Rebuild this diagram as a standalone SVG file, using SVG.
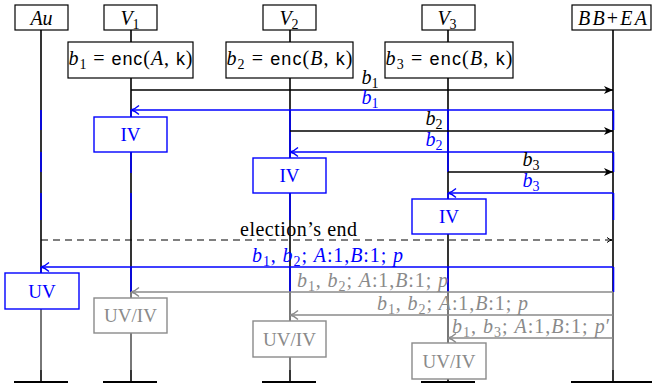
<svg xmlns="http://www.w3.org/2000/svg" width="652" height="389" viewBox="0 0 652 389">
<style>
text{font-family:"Liberation Serif","Times New Roman",serif;font-size:20px;fill:#000}
.it{font-style:italic}
.sans{font-family:"Liberation Sans",Arial,sans-serif;font-style:normal;font-size:18px}
.sub{font-size:14px}
.bl{font-size:19px}
.ll{stroke:#000;stroke-width:1.6;fill:none}
.llb{stroke:#0000ff;stroke-width:1.6;fill:none}
.llg{stroke:#8a8a8a;stroke-width:1.6;fill:none}
.foot{stroke:#000;stroke-width:2}
.box{fill:#fff;stroke:#000;stroke-width:1.2}
.boxb{fill:#fff;stroke:#0000ff;stroke-width:1.4}
.boxg{fill:#fff;stroke:#8a8a8a;stroke-width:1.4}
.tb{fill:#0000ff}
.tg{fill:#8a8a8a}
.mk{stroke:#000;stroke-width:1.3;fill:none}
.mb{stroke:#0000ff;stroke-width:1.3;fill:none}
.mg{stroke:#8a8a8a;stroke-width:1.3;fill:none}
.dash{stroke:#000;stroke-width:1.2;stroke-dasharray:7 5;fill:none}
</style>
<defs>
<marker id="hk" markerUnits="userSpaceOnUse" markerWidth="12" markerHeight="10" refX="10" refY="5" orient="auto"><path d="M1,1 L10,5 L1,9 L3.5,5 Z" fill="#000"/></marker>
<marker id="hb" markerUnits="userSpaceOnUse" markerWidth="12" markerHeight="12" refX="10" refY="6" orient="auto"><path d="M2,1.5 Q6,5.2 10,6 Q6,6.8 2,10.5" fill="none" stroke="#0000ff" stroke-width="1.3"/></marker>
<marker id="hg" markerUnits="userSpaceOnUse" markerWidth="12" markerHeight="12" refX="10" refY="6" orient="auto"><path d="M2,1.5 Q6,5.2 10,6 Q6,6.8 2,10.5" fill="none" stroke="#8a8a8a" stroke-width="1.3"/></marker>
<marker id="hd" markerUnits="userSpaceOnUse" markerWidth="8" markerHeight="8" refX="6" refY="4" orient="auto"><path d="M1,1.5 Q3.5,3.6 6,4 Q3.5,4.4 1,6.5" fill="none" stroke="#000" stroke-width="1"/></marker>
</defs>

<g id="Au">
<line class="ll" x1="41" y1="30" x2="41" y2="382"/>
<path class="llb" d="M41,110V130M41,152V172M41,193V220M41,267V273"/>
<path class="llg" d="M41,309V370"/>
<line class="foot" x1="14" y1="382" x2="68" y2="382"/>
<rect class="box" x="15" y="5" width="53" height="25"/>
<text x="41.5" y="24.5" text-anchor="middle" class="it">Au</text>
</g>

<g id="V1">
<line class="ll" x1="131" y1="30" x2="131" y2="382"/>
<path class="llb" d="M131,110V117M131,152V173M131,193V220M131,267V292"/>
<path class="llg" d="M131,292V298M131,333V370"/>
<line class="foot" x1="103" y1="382" x2="157" y2="382"/>
<rect class="box" x="104" y="5" width="53" height="25"/>
<text x="130" y="24.5" text-anchor="middle"><tspan class="it">V</tspan><tspan class="sub" dy="4">1</tspan></text>
<rect class="box" x="68" y="42" width="125" height="36"/>
<text x="130.5" y="65" text-anchor="middle" textLength="124"><tspan class="it">b</tspan><tspan class="sub" dy="4">1</tspan><tspan dy="-4"> = </tspan><tspan class="sans">enc</tspan>(<tspan class="it">A</tspan>, <tspan class="sans">k</tspan>)</text>
</g>

<g id="V2">
<line class="ll" x1="290" y1="30" x2="290" y2="382"/>
<path class="llb" d="M290,110V158M290,193V220M290,267V292"/>
<path class="llg" d="M290,292V321M290,357V370"/>
<line class="foot" x1="262" y1="382" x2="316" y2="382"/>
<rect class="box" x="263" y="5" width="53" height="25"/>
<text x="289" y="24.5" text-anchor="middle"><tspan class="it">V</tspan><tspan class="sub" dy="4">2</tspan></text>
<rect class="box" x="226" y="42" width="127" height="36"/>
<text x="289.5" y="65" text-anchor="middle" textLength="126"><tspan class="it">b</tspan><tspan class="sub" dy="4">2</tspan><tspan dy="-4"> = </tspan><tspan class="sans">enc</tspan>(<tspan class="it">B</tspan>, <tspan class="sans">k</tspan>)</text>
</g>

<g id="V3">
<line class="ll" x1="448" y1="30" x2="448" y2="382"/>
<path class="llb" d="M448,110V172M448,193V199M448,267V292"/>
<path class="llg" d="M448,292V343"/>
<line class="foot" x1="421" y1="382" x2="475" y2="382"/>
<rect class="box" x="422" y="5" width="53" height="25"/>
<text x="447" y="24.5" text-anchor="middle"><tspan class="it">V</tspan><tspan class="sub" dy="4">3</tspan></text>
<rect class="box" x="385" y="42" width="128" height="36"/>
<text x="449" y="65" text-anchor="middle" textLength="127"><tspan class="it">b</tspan><tspan class="sub" dy="4">3</tspan><tspan dy="-4"> = </tspan><tspan class="sans">enc</tspan>(<tspan class="it">B</tspan>, <tspan class="sans">k</tspan>)</text>
</g>

<g id="BBEA">
<line class="ll" x1="613" y1="30" x2="613" y2="382"/>
<path class="llb" d="M613.5,110V130M613.5,152V172M613.5,193V220M613.5,267V292"/>
<path class="llg" d="M613,292V370"/>
<line class="foot" x1="571" y1="382" x2="652" y2="382"/>
<rect class="box" x="572" y="5" width="79" height="25"/>
<text x="612.5" y="24.5" text-anchor="middle" textLength="69"><tspan class="it">BB</tspan>+<tspan class="it">EA</tspan></text>
</g>

<g id="connectors">
<line class="mk" x1="131" y1="90" x2="613" y2="90" marker-end="url(#hk)"/>
<text x="370" y="84" text-anchor="middle"><tspan class="it">b</tspan><tspan class="sub" dy="4">1</tspan></text>
<line class="mb" x1="613" y1="110" x2="131" y2="110" marker-end="url(#hb)"/>
<text class="tb" x="370" y="104" text-anchor="middle"><tspan class="it">b</tspan><tspan class="sub" dy="4">1</tspan></text>

<line class="mk" x1="290" y1="131" x2="613" y2="131" marker-end="url(#hk)"/>
<text x="434" y="125" text-anchor="middle"><tspan class="it">b</tspan><tspan class="sub" dy="4">2</tspan></text>
<line class="mb" x1="613" y1="152" x2="290" y2="152" marker-end="url(#hb)"/>
<text class="tb" x="434" y="146" text-anchor="middle"><tspan class="it">b</tspan><tspan class="sub" dy="4">2</tspan></text>

<line class="mk" x1="448" y1="172" x2="613" y2="172" marker-end="url(#hk)"/>
<text x="531" y="166" text-anchor="middle"><tspan class="it">b</tspan><tspan class="sub" dy="4">3</tspan></text>
<line class="mb" x1="613" y1="193" x2="448" y2="193" marker-end="url(#hb)"/>
<text class="tb" x="531" y="187" text-anchor="middle"><tspan class="it">b</tspan><tspan class="sub" dy="4">3</tspan></text>

<line class="dash" x1="41" y1="240" x2="612" y2="240" marker-end="url(#hd)"/>
<text x="298.5" y="236" text-anchor="middle" textLength="117">election’s end</text>

<line class="mb" x1="613" y1="267" x2="41" y2="267" marker-end="url(#hb)"/>
<text class="tb" x="327.5" y="262" text-anchor="middle" textLength="151"><tspan class="it">b</tspan><tspan class="sub" dy="4">1</tspan><tspan dy="-4">, </tspan><tspan class="it">b</tspan><tspan class="sub" dy="4">2</tspan><tspan dy="-4">; </tspan><tspan class="it">A</tspan>:1,<tspan class="it">B</tspan>:1; <tspan class="it">p</tspan></text>

<line class="mg" x1="613" y1="292" x2="131" y2="292" marker-end="url(#hg)"/>
<text class="tg" x="372.5" y="287" text-anchor="middle" textLength="151"><tspan class="it">b</tspan><tspan class="sub" dy="4">1</tspan><tspan dy="-4">, </tspan><tspan class="it">b</tspan><tspan class="sub" dy="4">2</tspan><tspan dy="-4">; </tspan><tspan class="it">A</tspan>:1,<tspan class="it">B</tspan>:1; <tspan class="it">p</tspan></text>

<line class="mg" x1="613" y1="315" x2="290" y2="315" marker-end="url(#hg)"/>
<text class="tg" x="452.5" y="310" text-anchor="middle" textLength="151"><tspan class="it">b</tspan><tspan class="sub" dy="4">1</tspan><tspan dy="-4">, </tspan><tspan class="it">b</tspan><tspan class="sub" dy="4">2</tspan><tspan dy="-4">; </tspan><tspan class="it">A</tspan>:1,<tspan class="it">B</tspan>:1; <tspan class="it">p</tspan></text>

<line class="mg" x1="613" y1="338" x2="448" y2="338" marker-end="url(#hg)"/>
<text class="tg" x="531" y="333" text-anchor="middle" textLength="158"><tspan class="it">b</tspan><tspan class="sub" dy="4">1</tspan><tspan dy="-4">, </tspan><tspan class="it">b</tspan><tspan class="sub" dy="4">3</tspan><tspan dy="-4">; </tspan><tspan class="it">A</tspan>:1,<tspan class="it">B</tspan>:1; <tspan class="it">p</tspan>′</text>
</g>

<g id="IV1"><rect class="boxb" x="94" y="117" width="73" height="35"/><text class="tb bl" x="130.5" y="141" text-anchor="middle">IV</text></g>
<g id="IV2"><rect class="boxb" x="253" y="158" width="73" height="35"/><text class="tb bl" x="289.5" y="182" text-anchor="middle">IV</text></g>
<g id="IV3"><rect class="boxb" x="412" y="199" width="74" height="35"/><text class="tb bl" x="449" y="223" text-anchor="middle">IV</text></g>
<g id="UV"><rect class="boxb" x="5" y="273" width="74" height="36"/><text class="tb bl" x="42" y="297.5" text-anchor="middle">UV</text></g>
<g id="UVIV1"><rect class="boxg" x="94" y="298" width="73" height="35"/><text class="tg bl" x="130.5" y="322" text-anchor="middle">UV/IV</text></g>
<g id="UVIV2"><rect class="boxg" x="253" y="321" width="73" height="36"/><text class="tg bl" x="289.5" y="345.5" text-anchor="middle">UV/IV</text></g>
<g id="UVIV3"><rect class="boxg" x="412" y="343" width="74" height="36"/><text class="tg bl" x="449" y="367.5" text-anchor="middle">UV/IV</text></g>
</svg>
